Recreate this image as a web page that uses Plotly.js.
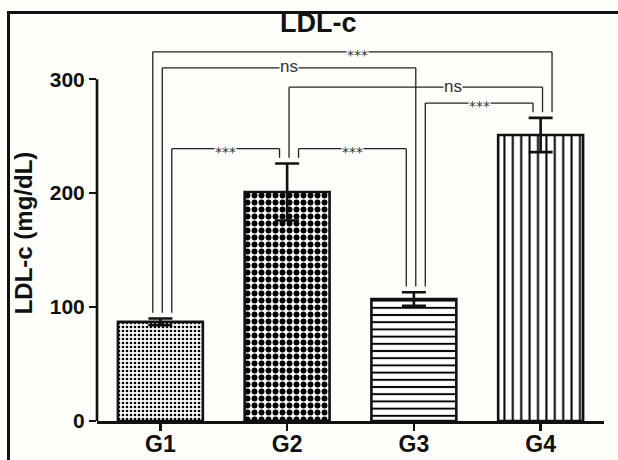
<!DOCTYPE html>
<html>
<head>
<meta charset="utf-8">
<script src="https://cdn.plot.ly/plotly-3.0.1.min.js"></script>
<style>
  html, body { margin: 0; padding: 0; background: #fdfdfa; }
  #wrap { position: relative; width: 618px; height: 460px; overflow: hidden; }
  #chart { width: 618px; height: 460px; }
  #frame { position: absolute; left: 7px; top: 11px; width: 700px; height: 600px;
           border-top: 3px solid #111; border-left: 3px solid #111; pointer-events: none; }
</style>
</head>
<body>
<div id="wrap"><div id="chart"></div><div id="frame"></div></div>
<script>
// ---- data ----
var categories = ['G1', 'G2', 'G3', 'G4'];
var means = [87, 201, 107, 251];
var errors = [3, 25, 6, 15];
var tickValues = [0, 100, 200, 300];
var tickLabels = ['0', '100', '200', '300'];
// significance comparisons (index into categories)
var compFrom = [0, 0, 1, 2, 0, 1];
var compTo = [3, 2, 3, 3, 1, 2];
var compLevel = [324, 310, 293, 279, 239, 239];
var compLabel = ['***', 'ns', 'ns', '***', '***', '***'];

// ---- style ----
var BG = '#fdfdfa';
var INK = '#111111';
var FONT = 'Liberation Sans, Arial, Helvetica, sans-serif';
var patterns = [
  {shape: '.', size: 4, solidity: 0.35},
  {shape: '.', size: 7, solidity: 0.55},
  {shape: '-', size: 7.2, solidity: 0.27},
  {shape: '|', size: 8.4, solidity: 0.24}
];
var legSlotOffset = [-0.06, 0.015, 0.09];
// which slot each comparison uses at its two ends
var fromSlot = [0, 1, 1, 2, 2, 2];
var toSlot = [2, 1, 1, 0, 0, 0];
var labelShift = [0.04, 0, 0.29, 0, 0, 0];
var legGap = 5;

var traces = categories.map(function (c, i) {
  return {
    type: 'bar',
    x: [c],
    y: [means[i]],
    width: 0.67,
    marker: {
      color: '#ffffff',
      line: {color: INK, width: 2.6},
      pattern: {shape: patterns[i].shape, size: patterns[i].size, solidity: patterns[i].solidity,
                fgcolor: '#000000', bgcolor: '#ffffff', fillmode: 'replace'}
    },
    error_y: {type: 'data', array: [errors[i]], visible: true, color: INK, thickness: 2.6, width: 12},
    showlegend: false,
    hoverinfo: 'skip'
  };
});

var shapes = [];
var annotations = [];

// y axis line from 0 to 300
shapes.push({type: 'line', xref: 'paper', yref: 'y', x0: 0, x1: 0, y0: 0, y1: tickValues[tickValues.length - 1],
             line: {color: INK, width: 2.6}});

for (var k = 0; k < compFrom.length; k++) {
  var a = compFrom[k], b = compTo[k];
  var xa = a + legSlotOffset[fromSlot[k]];
  var xb = b + legSlotOffset[toSlot[k]];
  var ya = means[a] + errors[a] + legGap;
  var yb = means[b] + errors[b] + legGap;
  var lv = compLevel[k];
  var ln = {color: '#222', width: 1.3};
  shapes.push({type: 'line', xref: 'x', yref: 'y', x0: xa, x1: xa, y0: ya, y1: lv, line: ln});
  shapes.push({type: 'line', xref: 'x', yref: 'y', x0: xb, x1: xb, y0: yb, y1: lv, line: ln});
  shapes.push({type: 'line', xref: 'x', yref: 'y', x0: xa, x1: xb, y0: lv, y1: lv, line: ln});
  var isNs = compLabel[k] === 'ns';
  annotations.push({
    xref: 'x', yref: 'y', x: (xa + xb) / 2 + labelShift[k], y: lv,
    text: compLabel[k], showarrow: false,
    font: {family: isNs ? FONT : 'DejaVu Sans, sans-serif', size: isNs ? 17 : 14, color: '#333'},
    bgcolor: BG, borderpad: 0, yshift: isNs ? 1 : -3
  });
}

var layout = {
  width: 618, height: 460,
  paper_bgcolor: BG, plot_bgcolor: BG,
  margin: {l: 97, r: 14, t: 45, b: 39, pad: 0},
  bargap: 0.33,
  title: {text: 'LDL-c', font: {family: FONT, size: 27, weight: 'bold', color: INK},
          x: 0.515, xanchor: 'center', y: 0.95, yanchor: 'middle', yref: 'container'},
  xaxis: {
    type: 'category', range: [-0.5, 3.5], fixedrange: true,
    showline: true, linecolor: INK, linewidth: 2.6, mirror: false,
    ticks: 'outside', ticklen: 7, tickwidth: 2.6, tickcolor: INK,
    ticklabelstandoff: -6,
    showgrid: false, zeroline: false,
    tickfont: {family: FONT, size: 23, weight: 'bold', color: INK}
  },
  yaxis: {
    range: [0, 330], fixedrange: true,
    showline: false, showgrid: false, zeroline: false,
    tickvals: tickValues, ticktext: tickLabels,
    ticks: 'outside', ticklen: 7, tickwidth: 2.6, tickcolor: INK,
    tickfont: {family: FONT, size: 21, weight: 'bold', color: INK},
    title: {text: 'LDL-c (mg/dL)', font: {family: FONT, size: 24, weight: 'bold', color: INK}, standoff: 10}
  },
  shapes: shapes,
  annotations: annotations
};

Plotly.newPlot('chart', traces, layout, {staticPlot: true, displayModeBar: false});
</script>
</body>
</html>
